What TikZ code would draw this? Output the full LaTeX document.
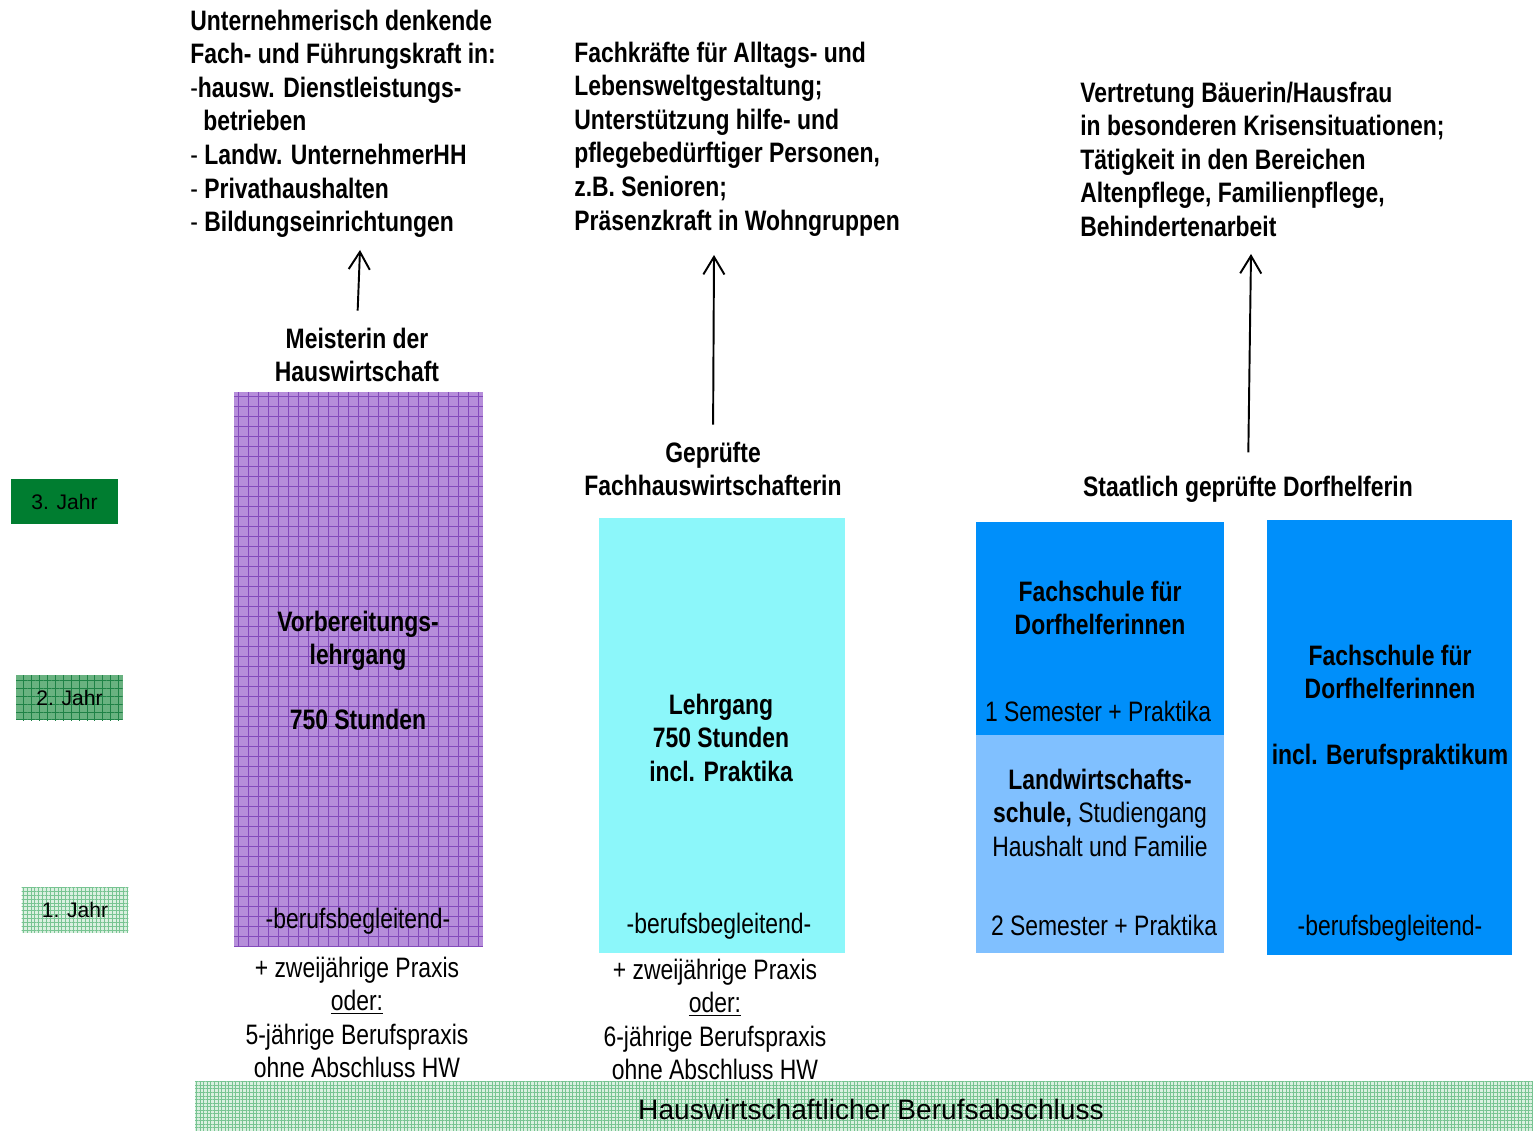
\documentclass[tikz,border=0pt]{standalone}
\usepackage{fontspec}
\setmainfont[FakeStretch=0.815]{Liberation Sans}
\newfontfamily\breitfont{Liberation Sans}
\usetikzlibrary{arrows.meta,patterns.meta}

\definecolor{jahrdunkel}{RGB}{0,125,48}
\definecolor{jahrmittel}{RGB}{105,178,128}
\definecolor{jahrgitter}{RGB}{30,130,70}
\definecolor{jahrhell}{RGB}{218,240,224}
\definecolor{hellgitter}{RGB}{120,196,146}
\definecolor{lila}{RGB}{182,142,218}
\definecolor{lilagitter}{RGB}{132,74,188}
\definecolor{tuerkis}{RGB}{140,247,250}
\definecolor{blaudunkel}{RGB}{0,143,250}
\definecolor{blauhell}{RGB}{128,192,255}

\tikzset{
	kasten/.style={draw=none,inner sep=0pt,outer sep=0pt},
	jahr/.style={kasten,minimum width=2.14cm,minimum height=0.9cm,font=\breitfont\fontsize{12}{14}\selectfont},
	txt/.style={inner sep=0pt,font=\fontsize{16}{19.1}\selectfont},
	kopf/.style={txt,font=\fontsize{16}{19.1}\selectfont\bfseries},
	pfeil/.style={-{Straight Barb[length=10pt,width=12pt]},line width=1.1pt}
}

\begin{document}
\begin{tikzpicture}[x=0.02cm,y=-0.02cm]
	\useasboundingbox (0,0) rectangle (1533,1131);
	
	% Jahre
	\node[jahr,fill=jahrdunkel] (jahr3) at (64.5,501.5) {3. Jahr};
	\node[jahr,fill=jahrmittel,postaction={pattern={Hatch[angle=0,distance=4.5pt,line width=0.5pt]},pattern color=jahrgitter}] (jahr2) at (69.5,697.5) {};
	\node[jahr] at (jahr2) {2. Jahr};
	\node[jahr,fill=jahrhell,postaction={pattern={Hatch[angle=0,distance=2.2pt,line width=0.4pt]},pattern color=hellgitter}] (jahr1) at (75,910) {};
	\node[jahr] at (jahr1) {1. Jahr};
	
	% Kaesten
	\node[kasten,fill=lila,minimum width=4.98cm,minimum height=11.1cm] (vorb) at (358.5,669.5) {};
	\foreach \i in {0,...,24}
	{
		\draw[lilagitter,line width=0.5pt] (238+10*\i,392)--++(0,555);
	}
	\foreach \j in {0,...,55}
	{
		\draw[lilagitter,line width=0.5pt] (234,396+10*\j)--++(249,0);
	}
	\node[kasten,fill=tuerkis,minimum width=4.92cm,minimum height=8.7cm] (lehr) at (722,735.5) {};
	\node[kasten,fill=blaudunkel,minimum width=4.96cm,minimum height=4.26cm] (fachA) at (1100,628.5) {};
	\node[kasten,fill=blauhell,minimum width=4.96cm,minimum height=4.36cm] (landw) at (1100,844) {};
	\node[kasten,fill=blaudunkel,minimum width=4.9cm,minimum height=8.7cm] (fachB) at (1389.5,737.5) {};
	\node[kasten,fill=jahrhell,minimum width=26.76cm,minimum height=1cm,postaction={pattern={Hatch[angle=0,distance=2pt,line width=0.4pt]},pattern color=hellgitter}] (basis) at (864,1106) {};
	
	% Taetigkeitsfelder
	\node[kopf,anchor=north west,align=left] (feldA) at (190,9.5) {Unternehmerisch denkende\\Fach- und Führungskraft in:\\\textmd{-}hausw. Dienstleistungs-\\\hspace*{7.4pt}betrieben\\\textmd{- }Landw. UnternehmerHH\\\textmd{- }Privathaushalten\\\textmd{- }Bildungseinrichtungen};
	\node[kopf,anchor=north west,align=left] (feldB) at (574,41.5) {Fachkräfte für Alltags- und\\Lebensweltgestaltung;\\Unterstützung hilfe- und\\pflegebedürftiger Personen,\\z.B. Senioren;\\Präsenzkraft in Wohngruppen};
	\node[kopf,anchor=north west,align=left] (feldC) at (1080,81.5) {Vertretung Bäuerin/Hausfrau\\in besonderen Krisensituationen;\\Tätigkeit in den Bereichen\\Altenpflege, Familienpflege,\\Behindertenarbeit};
	
	% Abschluesse
	\node[kopf,anchor=north,align=center] (meister) at (357,327.5) {Meisterin der\\Hauswirtschaft};
	\node[kopf,anchor=north,align=center] (fhw) at (713,441.5) {Geprüfte\\Fachhauswirtschafterin};
	\node[kopf,anchor=base] (dorf) at (1248,496) {Staatlich geprüfte Dorfhelferin};
	
	\coordinate (zielA) at (360,250);
	\coordinate (zielB) at (714,255);
	\coordinate (zielC) at (1251,254);
	\draw[pfeil,shorten <=9.6pt] (meister.north) -- (zielA);
	\draw[pfeil,shorten <=9.6pt] (fhw.north) -- (zielB);
	\draw[pfeil,shorten <=13pt] (dorf.north) -- (zielC);
	
	% Texte in den Kaesten
	\node[kopf,anchor=north,align=center] (vorbT) at (358,610.5) {Vorbereitungs-\\lehrgang\\[18pt]750 Stunden};
	\node[txt,anchor=base] (vorbB) at (358,928) {-berufsbegleitend-};
	\node[txt,anchor=north,align=center] (praxisA) at (357,956.5) {+ zweijährige Praxis\\\underline{oder:}\\5-jährige Berufspraxis\\ohne Abschluss HW};
	
	\node[kopf,anchor=north,align=center] (lehrT) at (721,693.5) {Lehrgang\\750 Stunden\\incl. Praktika};
	\node[txt,anchor=base] (lehrB) at (719,933) {-berufsbegleitend-};
	\node[txt,anchor=north,align=center] (praxisB) at (715,958.5) {+ zweijährige Praxis\\\underline{oder:}\\6-jährige Berufspraxis\\ohne Abschluss HW};
	
	\node[kopf,anchor=north,align=center] (fachAT) at (1100,580.5) {Fachschule für\\Dorfhelferinnen};
	\node[txt,anchor=base] (semA) at (1098,721) {1 Semester + Praktika};
	\node[txt,anchor=north,align=center] (landwT) at (1100,768.5) {\textbf{Landwirtschafts-}\\\textbf{schule,} Studiengang\\Haushalt und Familie};
	\node[txt,anchor=base] (semB) at (1104,935) {2 Semester + Praktika};
	
	\node[kopf,anchor=north,align=center] (fachBT) at (1390,644.5) {Fachschule für\\Dorfhelferinnen\\[18.5pt]incl. Berufspraktikum};
	\node[txt,anchor=base] (fachBB) at (1390,935) {-berufsbegleitend-};
	
	\node[anchor=base,inner sep=0pt,font=\breitfont\fontsize{16}{19}\selectfont] (basisT) at (871,1119) {Hauswirtschaftlicher Berufsabschluss};
\end{tikzpicture}
\end{document}
